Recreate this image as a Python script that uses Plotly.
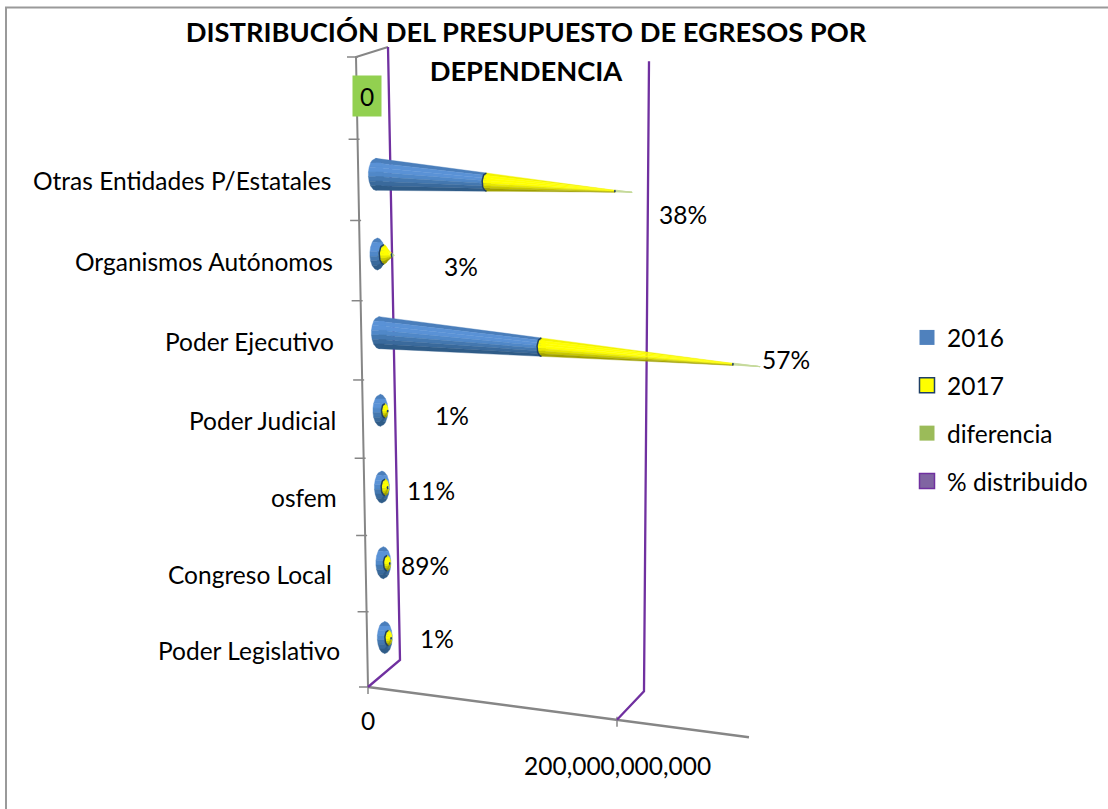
import math
import plotly.graph_objects as go

# ---------- data ----------
CATEGORIES = ["Poder Legislativo", "Congreso Local", "osfem", "Poder Judicial",
              "Poder Ejecutivo", "Organismos Autónomos", "Otras Entidades P/Estatales", ""]
V2016 = [3.0e9, 3.0e9, 2.5e9, 3.5e9, 127e9, 5.0e9, 85e9, 0]
V2017 = [2.4e9, 2.4e9, 2.3e9, 2.4e9, 150e9, 6.5e9, 99e9, 0]
DIFERENCIA = [0.4e9, 0.4e9, 0.4e9, 0.4e9, 21e9, 1.5e9, 13e9, 0]
PCT_LABELS = ["1%", "89%", "11%", "1%", "57%", "3%", "38%", "0"]
SERIES = ["2016", "2017", "diferencia", "% distribuido"]
VALUE_TICKS = [0, 200_000_000_000]
VALUE_TICK_LABELS = ["0", "200,000,000,000"]
TITLE_LINES = ["DISTRIBUCIÓN DEL PRESUPUESTO DE EGRESOS POR", "DEPENDENCIA"]

# ---------- style ----------
FONT = "Lato"
SIZE = 24.5
BLUE = ["#4a7ebb", "#5a92d6", "#5a92d6", "#5088c8", "#4478b0", "#3a6a9c", "#2f5c88"]
YELLOW = ["#f2f200", "#ffff00", "#ffff00", "#ffff00", "#e8e800", "#c8c800", "#a0a000"]
GREEN = ["#c5d99a"] * 7
PURPLE = "#7030a0"
GRAY = "#868686"
DARK = "#1f3f66"
LABEL_XY = [(437, 638), (425, 565), (431, 490), (452, 415), (786, 359), (461, 266), (683, 214)]
CAT_NUDGE = {1: -7}
CONE_SHIFT = (1.5, 1)


# ---------- projection of the Excel 3-D box ----------
def frac(i):
    return (75 * i + 0.5 * i * i) / 632


def project(v, i, d):
    """value v, category position i, depth d (0 front .. 1 back) to picture units."""
    f = frac(i)
    x0 = 368 + 32 * d - 12 * f
    y0 = (687 - 630 * f) * (1 - d) + (660 - 613 * f) * d
    span = 249 - 5 * d + 17 * f
    slope = 0.055 + (y0 - 47) * 0.00012
    dx = v / 2e11 * span
    return x0 + dx, y0 + dx * slope


fig = go.Figure()


def line(points, color, width):
    fig.add_trace(go.Scatter(x=[p[0] for p in points], y=[p[1] for p in points], mode="lines",
                             line=dict(color=color, width=width), hoverinfo="skip", showlegend=False))


def poly(xs, ys, color):
    fig.add_trace(go.Scatter(x=xs, y=ys, mode="lines", fill="toself", fillcolor=color,
                             line=dict(color=color, width=0.4), hoverinfo="skip", showlegend=False))


# frame
line([(6, 809), (6, 7.5), (1108, 7.5)], "#9a9a9a", 2)

# walls and axes
line([project(0, 0, 0), project(0, 8, 0), project(0, 8, 1)], GRAY, 2)
line([project(0, 0, 0), project(3.06e11, 0, 0)], GRAY, 2.5)
for i in range(9):
    x, y = project(0, i, 0)
    line([(x - 9, y), (x + 2, y)], GRAY, 1.5)
for v in VALUE_TICKS:
    x, y = project(v, 0, 0)
    line([(x, y - 3), (x, y + 7)], GRAY, 1.5)

line([project(0, 8, 1), project(0, 0, 1), project(0, 0, 0)], PURPLE, 2.3)
line([project(2e11, 8, 1), project(2e11, 0, 1), project(2e11, 0, 0)], PURPLE, 2.3)

# cones
W, H = 7.5, 16
EDGES = [-1 + 2 * k / 7 for k in range(8)]

for i, cat in enumerate(CATEGORIES):
    vals = [V2016[i], V2017[i], DIFERENCIA[i]]
    total = sum(vals)
    if total == 0:
        continue
    pos = i + 0.5
    cum = 0
    for seg, (val, cols) in enumerate(zip(vals, (BLUE, YELLOW, GREEN))):
        t0, t1 = cum / total, (cum + val) / total
        cum += val
        cx0, cy0 = project(total * t0, pos, 0.5)
        cx1, cy1 = project(total * t1, pos, 0.5)
        cx0, cx1 = cx0 + CONE_SHIFT[0], cx1 + CONE_SHIFT[0]
        cy0, cy1 = cy0 + CONE_SHIFT[1], cy1 + CONE_SHIFT[1]
        r0, r1 = 1 - t0, 1 - t1
        for b in range(7):
            s1, s2 = EDGES[b], EDGES[b + 1]
            # lateral surface of this colour band
            poly([cx0, cx1, cx1, cx0, cx0],
                 [cy0 + s1 * H * r0, cy1 + s1 * H * r1, cy1 + s2 * H * r1, cy0 + s2 * H * r0, cy0 + s1 * H * r0],
                 cols[b])
            # slice of the ellipse where this segment starts
            ss = [s1 + (s2 - s1) * k / 5 for k in range(6)]
            ex = [cx0 - W * r0 * math.sqrt(max(0, 1 - s * s)) for s in ss]
            ex += [cx0 + W * r0 * math.sqrt(max(0, 1 - s * s)) for s in reversed(ss)]
            ey = [cy0 + s * H * r0 for s in ss] + [cy0 + s * H * r0 for s in reversed(ss)]
            poly(ex + ex[:1], ey + ey[:1], cols[b])
        if seg > 0:
            arc = [(cx0 - W * r0 * math.sqrt(max(0, 1 - (k / 10) ** 2)), cy0 + (k / 10) * H * r0)
                   for k in range(-10, 11)]
            line(arc, DARK, 1.5)

# legend entries
LEG_STYLE = [("#4f81bd", "#4f81bd", 0), ("#ffff00", DARK, 1.5), ("#9bbb59", "#9bbb59", 0), ("#8064a2", PURPLE, 1.5)]
for name, (fc, lc, lw) in zip(SERIES, LEG_STYLE):
    fig.add_trace(go.Scatter(x=[None], y=[None], mode="markers", name=name, legendgroup=name,
                             marker=dict(symbol="square", size=15, color=fc, line=dict(color=lc, width=lw))))

ann = []
for i, cat in enumerate(CATEGORIES):
    if not cat:
        continue
    x, y = project(0, i + 0.5, 0)
    ann.append(dict(x=x - 25 + CAT_NUDGE.get(i, 0), y=y + 1, text=cat, xanchor="right", yanchor="middle",
                    showarrow=False))
for txt, (x, y) in zip(PCT_LABELS, LABEL_XY):
    ann.append(dict(x=x, y=y, text=txt, xanchor="center", yanchor="middle", showarrow=False))
ann.append(dict(x=367, y=95.5, text=PCT_LABELS[7], bgcolor="#92d050", width=28, height=40, showarrow=False,
                xanchor="center", yanchor="middle", borderpad=0))
for v, lab, dy in zip(VALUE_TICKS, VALUE_TICK_LABELS, (33, 46)):
    x, y = project(v, 0, 0)
    ann.append(dict(x=x, y=y + dy, text=lab, xanchor="center", yanchor="middle", showarrow=False))

fig.update_layout(
    width=1108, height=809, margin=dict(l=0, r=0, t=0, b=0), paper_bgcolor="white", plot_bgcolor="white",
    font=dict(family=FONT, size=SIZE, color="black"),
    xaxis=dict(range=[0, 1108], visible=False, fixedrange=True),
    yaxis=dict(range=[809, 0], visible=False, fixedrange=True),
    title=dict(text="<br>".join(f'<span style="font-size:27.3px">{t}</span>' for t in TITLE_LINES),
               x=526 / 1108, xanchor="center", y=1 - 42 / 809, yanchor="top",
               font=dict(family=FONT, size=30, color="black", weight="bold")),
    legend=dict(x=907 / 1108, y=1 - 315 / 809, xanchor="left", yanchor="top", tracegroupgap=13,
                bgcolor="rgba(0,0,0,0)", font=dict(family=FONT, size=SIZE)),
    annotations=ann,
)
fig.write_html("out.html", config={"displayModeBar": False}, post_script="document.body.style.margin='0';")
